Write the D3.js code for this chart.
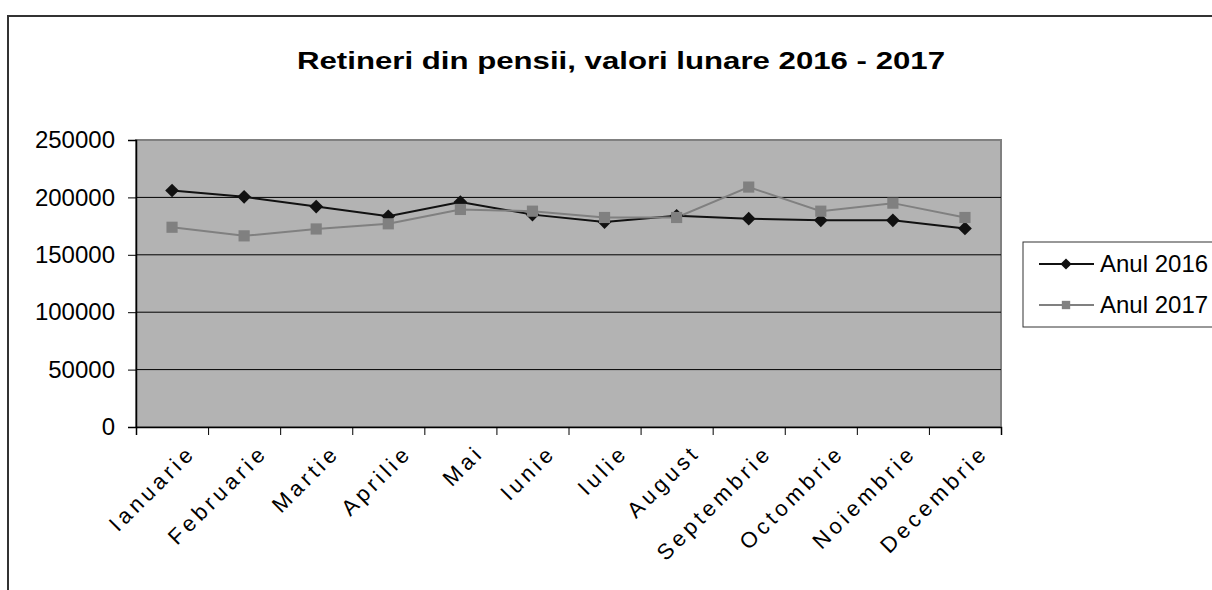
<!DOCTYPE html>
<html>
<head>
<meta charset="utf-8">
<script src="https://cdn.jsdelivr.net/npm/d3@7"></script>
<style>
  html, body { margin: 0; padding: 0; background: #fff; }
  svg { display: block; font-family: "Liberation Sans", Arial, sans-serif; }
</style>
</head>
<body>
<div id="chart"></div>
<script>
// Date lunare
const luni = ["Ianuarie", "Februarie", "Martie", "Aprilie", "Mai", "Iunie",
              "Iulie", "August", "Septembrie", "Octombrie", "Noiembrie", "Decembrie"];
const anul2016 = [206000, 200500, 192000, 183500, 196000, 185000,
                  178500, 184000, 181500, 180000, 180000, 173000];
const anul2017 = [174000, 166500, 172500, 177000, 189500, 188000,
                  182500, 182500, 209000, 188000, 195000, 182500];
const yTicks = [0, 50000, 100000, 150000, 200000, 250000];
const serii = [
  { nume: "Anul 2016", valori: anul2016 },
  { nume: "Anul 2017", valori: anul2017 }
];

const width = 1212, height = 590;
const plot = { left: 136, top: 140, right: 1001, bottom: 427 };

const svg = d3.select('#chart')
  .append('svg')
  .attr('width', width)
  .attr('height', height);

// chenarul exterior
svg.append('rect')
  .attr('x', 8).attr('y', 16)
  .attr('width', 1260).attr('height', 640)
  .attr('fill', '#fff')
  .attr('stroke', '#333')
  .attr('stroke-width', 2);

// titlu (fontul original e mai lat)
svg.append('text')
  .attr('x', 297).attr('y', 69)
  .attr('font-size', 24)
  .attr('font-weight', 'bold')
  .attr('fill', '#000')
  .attr('textLength', 648)
  .attr('lengthAdjust', 'spacingAndGlyphs')
  .text('Retineri din pensii, valori lunare 2016 - 2017');

const x = d3.scaleBand()
  .domain(luni)
  .range([plot.left, plot.right])
  .padding(0);
const xEdge = d3.scaleLinear()
  .domain([0, luni.length])
  .range([plot.left, plot.right]);
const y = d3.scaleLinear()
  .domain([0, 250000])
  .range([plot.bottom, plot.top]);

// fundal zona grafic
svg.append('rect')
  .attr('x', plot.left).attr('y', plot.top)
  .attr('width', plot.right - plot.left)
  .attr('height', plot.bottom - plot.top)
  .attr('fill', '#b3b3b3')
  .attr('stroke', '#808080')
  .attr('stroke-width', 2);

// linii de grila
svg.append('g')
  .selectAll('line')
  .data(yTicks.filter(d => d > 0 && d < 250000))
  .enter()
  .append('line')
  .attr('x1', plot.left).attr('x2', plot.right)
  .attr('y1', d => y(d)).attr('y2', d => y(d))
  .attr('stroke', '#000')
  .attr('stroke-width', 1);

// axa Y
const yAxis = svg.append('g')
  .attr('transform', `translate(${plot.left},0)`)
  .call(d3.axisLeft(y).tickValues(yTicks).tickSize(8).tickPadding(13).tickFormat(d3.format('d')));
yAxis.select('.domain').attr('stroke', '#000').attr('stroke-width', 1.5);
yAxis.selectAll('.tick line').attr('stroke', '#000');
yAxis.selectAll('.tick text')
  .attr('font-size', 24)
  .attr('font-family', '"Liberation Sans", Arial, sans-serif')
  .attr('fill', '#000');

// axa X (gradatii intre categorii)
const xAxis = svg.append('g')
  .attr('transform', `translate(0,${plot.bottom})`)
  .call(d3.axisBottom(xEdge).tickValues(d3.range(luni.length + 1)).tickSize(8).tickFormat(''));
xAxis.select('.domain').attr('stroke', '#000').attr('stroke-width', 1.5);
xAxis.selectAll('.tick line').attr('stroke', '#000');

// etichete luni, rotite
svg.append('g')
  .selectAll('text')
  .data(luni)
  .enter()
  .append('text')
  .attr('transform', d => `translate(${x(d) + x.bandwidth() / 2 + 14},${plot.bottom + 16}) rotate(-45)`)
  .attr('text-anchor', 'end')
  .attr('dy', '0.7em')
  .attr('font-size', 22)
  .attr('letter-spacing', 4)
  .attr('fill', '#000')
  .text(d => d);

const line = d3.line()
  .x((d, i) => x(luni[i]) + x.bandwidth() / 2)
  .y(d => y(d));

const diamond = d3.symbol().type(d3.symbolDiamond2).size(120);
const square = d3.symbol().type(d3.symbolSquare).size(125);

// seria 2016
svg.append('path')
  .datum(anul2016)
  .attr('d', line)
  .attr('fill', 'none')
  .attr('stroke', '#111')
  .attr('stroke-width', 2);

// seria 2017
svg.append('path')
  .datum(anul2017)
  .attr('d', line)
  .attr('fill', 'none')
  .attr('stroke', '#808080')
  .attr('stroke-width', 2);

svg.append('g')
  .selectAll('path')
  .data(anul2016)
  .enter()
  .append('path')
  .attr('d', diamond)
  .attr('transform', (d, i) => `translate(${x(luni[i]) + x.bandwidth() / 2},${y(d)})`)
  .attr('fill', '#111');

svg.append('g')
  .selectAll('path')
  .data(anul2017)
  .enter()
  .append('path')
  .attr('d', square)
  .attr('transform', (d, i) => `translate(${x(luni[i]) + x.bandwidth() / 2},${y(d)})`)
  .attr('fill', '#808080');

// legenda
const legend = svg.append('g');
legend.append('rect')
  .attr('x', 1023).attr('y', 242)
  .attr('width', 220).attr('height', 85)
  .attr('fill', '#fff')
  .attr('stroke', '#333')
  .attr('stroke-width', 1);

const legendRows = legend.selectAll('g.row')
  .data(serii)
  .enter()
  .append('g')
  .attr('class', 'row')
  .attr('transform', (d, i) => `translate(0,${264 + i * 41})`);

legendRows.append('line')
  .attr('x1', 1039).attr('x2', 1094)
  .attr('y1', 0).attr('y2', 0)
  .attr('stroke', (d, i) => i === 0 ? '#111' : '#808080')
  .attr('stroke-width', 2);

legendRows.append('path')
  .attr('d', (d, i) => i === 0 ? d3.symbol().type(d3.symbolDiamond2).size(80)() : d3.symbol().type(d3.symbolSquare).size(70)())
  .attr('transform', 'translate(1066,0)')
  .attr('fill', (d, i) => i === 0 ? '#111' : '#808080');

legendRows.append('text')
  .attr('x', 1100).attr('y', 0)
  .attr('dy', '0.35em')
  .attr('font-size', 24)
  .attr('fill', '#000')
  .text(d => d.nume);
</script>
</body>
</html>
